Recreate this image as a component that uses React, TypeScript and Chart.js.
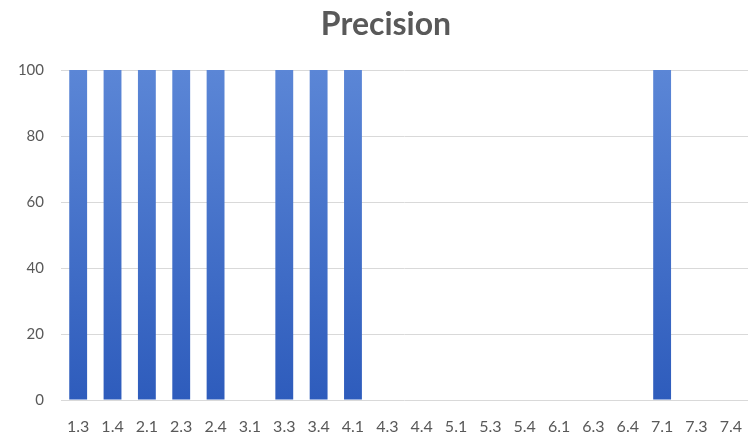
import React, { useEffect, useRef } from "react";
import { Chart, registerables } from "chart.js";

Chart.register(...registerables);

const categories = ["1.3", "1.4", "2.1", "2.3", "2.4", "3.1", "3.3", "3.4", "4.1", "4.3", "4.4", "5.1", "5.3", "5.4", "6.1", "6.3", "6.4", "7.1", "7.3", "7.4"];
const precisionValues = [100, 100, 100, 100, 100, 0, 100, 100, 100, 0, 0, 0, 0, 0, 0, 0, 0, 100, 0, 0];
const yTicks = [0, 20, 40, 60, 80, 100];
const chartTitle = "Precision";

const titlePlugin = {
  id: "customTitle",
  afterDraw(chart: any) {
    const ctx = chart.ctx;
    ctx.save();
    ctx.font = "bold 32px Lato";
    ctx.fillStyle = "#595959";
    ctx.textAlign = "center";
    ctx.textBaseline = "alphabetic";
    ctx.fillText(chartTitle, 386, 35);
    ctx.restore();
  },
};

export default function App() {
  const ref = useRef<HTMLCanvasElement | null>(null);

  useEffect(() => {
    document.body.style.margin = "0";
    const canvas = ref.current;
    if (!canvas) return;
    const chart = new Chart(canvas, {
      type: "bar",
      data: {
        labels: categories,
        datasets: [
          {
            label: chartTitle,
            data: precisionValues,
            backgroundColor: (ctx: any) => {
              const c = ctx.chart;
              const area = c.chartArea;
              if (!area) return "#4472c4";
              const g = c.ctx.createLinearGradient(0, area.top, 0, area.bottom);
              g.addColorStop(0, "#5b86d6");
              g.addColorStop(1, "#2e5cbc");
              return g;
            },
            borderWidth: 0,
            categoryPercentage: 1,
            barPercentage: 0.52,
          },
        ],
      },
      options: {
        animation: false,
        responsive: false,
        maintainAspectRatio: false,
        layout: { padding: { left: 0, right: 0, top: 70, bottom: 0 } },
        plugins: {
          legend: { display: false },
          tooltip: { enabled: false },
          title: { display: false },
        },
        scales: {
          x: {
            grid: { display: false },
            border: { display: false },
            ticks: {
              color: "#595959",
              font: { family: "Lato", size: 16 },
              padding: 9,
              maxRotation: 0,
              autoSkip: false,
            },
            afterFit: (s: any) => {
              s.height = 37;
              s.paddingLeft = 0;
              s.paddingRight = 0;
            },
          },
          y: {
            min: 0,
            max: 100,
            afterBuildTicks: (s: any) => {
              s.ticks = yTicks.map((v) => ({ value: v }));
            },
            grid: { color: "#d9d9d9", drawTicks: false, lineWidth: 1 },
            border: { display: false },
            ticks: {
              color: "#595959",
              font: { family: "Lato", size: 15 },
              padding: 17,
            },
            afterFit: (s: any) => {
              s.width = 61;
            },
          },
        },
      },
      plugins: [titlePlugin],
    });
    return () => chart.destroy();
  }, []);

  return <canvas ref={ref} width={748} height={437} style={{ display: "block" }} />;
}
